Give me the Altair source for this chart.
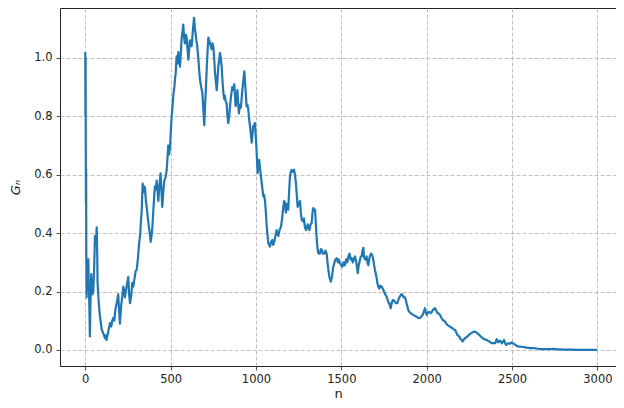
import altair as alt
import pandas as pd

n_values = [0, 1, 2, 3, 4, 5, 6, 8, 10, 12, 15, 18, 20, 22, 25, 27, 30, 32, 35, 37, 42, 47, 52, 57, 62, 67, 70, 72, 78, 86, 92, 96, 103, 110, 115, 120, 125, 130, 137, 145, 152, 158, 164, 170, 177, 184, 193, 198, 203, 210, 218, 223, 228, 232, 240, 246, 252, 257, 262, 270, 275, 281, 290, 295, 301, 308, 312, 316, 322, 326, 330, 333, 336, 340, 345, 350, 355, 360, 367, 373, 378, 383, 388, 393, 398, 403, 408, 413, 418, 423, 428, 434, 441, 446, 451, 457, 463, 470, 477, 482, 486, 491, 496, 501, 506, 512, 517, 522, 526, 530, 535, 540, 545, 550, 555, 560, 565, 570, 574, 579, 584, 589, 594, 599, 604, 609, 613, 618, 623, 630, 637, 642, 646, 651, 656, 662, 667, 672, 679, 686, 692, 697, 702, 707, 712, 717, 721, 726, 731, 736, 740, 745, 750, 755, 760, 765, 770, 775, 779, 784, 789, 794, 799, 804, 809, 814, 818, 823, 828, 833, 838, 843, 848, 854, 861, 867, 873, 877, 881, 886, 891, 896, 900, 906, 912, 917, 922, 927, 932, 936, 939, 945, 950, 955, 960, 965, 970, 975, 980, 984, 989, 994, 998, 1002, 1006, 1010, 1015, 1019, 1024, 1029, 1036, 1043, 1048, 1053, 1058, 1063, 1068, 1072, 1077, 1082, 1089, 1096, 1101, 1107, 1114, 1121, 1126, 1131, 1138, 1147, 1153, 1160, 1165, 1170, 1175, 1180, 1185, 1189, 1194, 1199, 1204, 1209, 1216, 1223, 1228, 1232, 1238, 1244, 1251, 1258, 1263, 1268, 1275, 1281, 1287, 1293, 1298, 1303, 1308, 1313, 1320, 1326, 1331, 1336, 1341, 1346, 1350, 1355, 1360, 1365, 1370, 1375, 1380, 1385, 1392, 1400, 1407, 1414, 1419, 1424, 1430, 1438, 1445, 1453, 1460, 1466, 1473, 1480, 1486, 1492, 1499, 1506, 1513, 1521, 1528, 1535, 1541, 1548, 1554, 1560, 1567, 1573, 1580, 1588, 1596, 1602, 1609, 1614, 1619, 1624, 1629, 1633, 1638, 1643, 1648, 1653, 1658, 1663, 1668, 1674, 1681, 1687, 1692, 1697, 1702, 1707, 1711, 1716, 1722, 1729, 1736, 1743, 1750, 1757, 1765, 1772, 1778, 1781, 1785, 1789, 1795, 1801, 1807, 1814, 1820, 1828, 1836, 1843, 1850, 1857, 1865, 1873, 1878, 1882, 1887, 1892, 1899, 1906, 1913, 1921, 1930, 1941, 1950, 1961, 1969, 1977, 1983, 1990, 1995, 2000, 2005, 2010, 2017, 2024, 2030, 2036, 2042, 2049, 2056, 2063, 2070, 2078, 2086, 2094, 2101, 2108, 2115, 2121, 2128, 2136, 2144, 2152, 2159, 2166, 2173, 2180, 2186, 2191, 2195, 2203, 2210, 2217, 2224, 2231, 2238, 2245, 2253, 2260, 2268, 2275, 2283, 2290, 2297, 2303, 2309, 2316, 2322, 2329, 2336, 2344, 2352, 2360, 2367, 2374, 2381, 2391, 2401, 2406, 2410, 2415, 2420, 2425, 2430, 2435, 2440, 2447, 2453, 2459, 2465, 2472, 2479, 2489, 2498, 2505, 2512, 2520, 2528, 2537, 2547, 2557, 2567, 2576, 2586, 2596, 2606, 2626, 2645, 2665, 2684, 2704, 2723, 2743, 2762, 2782, 2801, 2840, 2880, 2940, 2999]

g_values = [1.02, 0.80, 1.00, 0.68, 0.50, 0.62, 0.35, 0.18, 0.27, 0.22, 0.30, 0.31, 0.24, 0.20, 0.12, 0.046, 0.15, 0.20, 0.26, 0.23, 0.19, 0.20, 0.28, 0.39, 0.36, 0.42, 0.33, 0.23, 0.17, 0.114, 0.09, 0.07, 0.06, 0.05, 0.04, 0.05, 0.034, 0.05, 0.07, 0.092, 0.08, 0.10, 0.11, 0.10, 0.14, 0.16, 0.19, 0.14, 0.09, 0.15, 0.19, 0.217, 0.20, 0.18, 0.21, 0.23, 0.25, 0.19, 0.16, 0.19, 0.23, 0.217, 0.25, 0.27, 0.274, 0.31, 0.34, 0.367, 0.40, 0.44, 0.47, 0.52, 0.57, 0.54, 0.56, 0.555, 0.51, 0.49, 0.45, 0.42, 0.40, 0.37, 0.39, 0.42, 0.47, 0.52, 0.56, 0.55, 0.58, 0.55, 0.51, 0.56, 0.605, 0.55, 0.49, 0.54, 0.58, 0.59, 0.617, 0.66, 0.70, 0.67, 0.69, 0.75, 0.80, 0.84, 0.88, 0.90, 0.93, 0.95, 1.005, 0.98, 1.02, 1.00, 0.97, 1.02, 1.07, 1.09, 1.114, 1.07, 1.05, 1.08, 1.07, 1.03, 0.994, 1.03, 1.06, 1.05, 1.04, 1.09, 1.137, 1.10, 1.085, 1.06, 1.04, 1.00, 0.96, 0.926, 0.90, 0.88, 0.82, 0.77, 0.84, 0.90, 0.97, 1.03, 1.07, 1.06, 1.05, 1.04, 1.03, 1.05, 1.04, 1.00, 0.95, 0.92, 0.89, 0.93, 0.97, 0.99, 1.017, 1.00, 0.97, 0.92, 0.88, 0.86, 0.87, 0.85, 0.845, 0.80, 0.777, 0.80, 0.835, 0.87, 0.90, 0.89, 0.91, 0.87, 0.835, 0.86, 0.89, 0.84, 0.81, 0.84, 0.83, 0.87, 0.90, 0.93, 0.954, 0.92, 0.89, 0.834, 0.84, 0.823, 0.79, 0.766, 0.74, 0.71, 0.74, 0.766, 0.77, 0.777, 0.74, 0.70, 0.65, 0.606, 0.63, 0.651, 0.62, 0.594, 0.56, 0.526, 0.53, 0.51, 0.47, 0.423, 0.39, 0.366, 0.36, 0.354, 0.37, 0.377, 0.36, 0.37, 0.39, 0.41, 0.40, 0.39, 0.41, 0.423, 0.45, 0.49, 0.51, 0.503, 0.47, 0.50, 0.49, 0.48, 0.54, 0.594, 0.61, 0.617, 0.61, 0.617, 0.60, 0.583, 0.54, 0.49, 0.50, 0.51, 0.47, 0.446, 0.44, 0.45, 0.42, 0.41, 0.42, 0.43, 0.42, 0.41, 0.43, 0.434, 0.47, 0.486, 0.48, 0.48, 0.44, 0.388, 0.35, 0.332, 0.33, 0.33, 0.345, 0.343, 0.33, 0.33, 0.34, 0.33, 0.30, 0.274, 0.25, 0.234, 0.25, 0.285, 0.30, 0.31, 0.314, 0.30, 0.31, 0.297, 0.29, 0.285, 0.30, 0.29, 0.31, 0.30, 0.32, 0.33, 0.31, 0.315, 0.30, 0.31, 0.32, 0.30, 0.263, 0.29, 0.309, 0.32, 0.32, 0.34, 0.35, 0.32, 0.31, 0.31, 0.32, 0.30, 0.29, 0.31, 0.323, 0.33, 0.325, 0.31, 0.29, 0.274, 0.26, 0.246, 0.23, 0.217, 0.21, 0.22, 0.217, 0.21, 0.20, 0.19, 0.183, 0.17, 0.16, 0.16, 0.15, 0.143, 0.16, 0.171, 0.17, 0.165, 0.16, 0.16, 0.175, 0.183, 0.19, 0.19, 0.18, 0.18, 0.17, 0.16, 0.15, 0.137, 0.13, 0.126, 0.123, 0.12, 0.117, 0.114, 0.11, 0.109, 0.115, 0.12, 0.13, 0.143, 0.13, 0.12, 0.125, 0.13, 0.13, 0.126, 0.13, 0.137, 0.14, 0.143, 0.135, 0.126, 0.125, 0.12, 0.11, 0.103, 0.10, 0.097, 0.09, 0.086, 0.083, 0.08, 0.077, 0.074, 0.07, 0.069, 0.06, 0.051, 0.048, 0.046, 0.04, 0.035, 0.029, 0.035, 0.04, 0.043, 0.046, 0.05, 0.054, 0.057, 0.06, 0.062, 0.063, 0.06, 0.057, 0.054, 0.051, 0.047, 0.043, 0.04, 0.037, 0.036, 0.034, 0.031, 0.029, 0.026, 0.023, 0.023, 0.023, 0.03, 0.037, 0.03, 0.026, 0.03, 0.032, 0.028, 0.023, 0.028, 0.034, 0.025, 0.017, 0.02, 0.023, 0.021, 0.026, 0.022, 0.021, 0.017, 0.014, 0.012, 0.011, 0.011, 0.01, 0.009, 0.008, 0.007, 0.006, 0.006, 0.005, 0.003, 0.003, 0.003, 0.003, 0.004, 0.002, 0.002, 0.001, 0.001, 0.0, 0.0, 0.0]

x_ticks = [0, 500, 1000, 1500, 2000, 2500, 3000]
y_ticks = [0.0, 0.2, 0.4, 0.6, 0.8, 1.0]

df = pd.DataFrame({"n": n_values, "g": g_values})

FONT = "DejaVu Sans"

chart = (
    alt.Chart(df)
    .mark_line(color="#1f77b4", strokeWidth=2.2, strokeJoin="round", clip=True)
    .encode(
        x=alt.X(
            "n:Q",
            scale=alt.Scale(domain=[-148, 3109], nice=False, zero=False),
            axis=alt.Axis(
                values=x_ticks,
                title="n",
                format="d",
                titlePadding=3,
                labelPadding=3,
            ),
        ),
        y=alt.Y(
            "g:Q",
            scale=alt.Scale(domain=[-0.055, 1.171], nice=False, zero=False),
            axis=alt.Axis(
                values=y_ticks,
                title="Gₙ",
                format=".1f",
                titlePadding=11,
                labelPadding=4,
                titleFontStyle="italic",
            ),
        ),
    )
    .properties(
        width=556,
        height=358,
        autosize=alt.AutoSizeParams(type="none"),
        padding={"left": 52, "top": 0, "right": 0, "bottom": 34},
    )
    .configure_view(stroke="#222222", strokeWidth=1)
    .configure_axis(
        domain=False,
        grid=True,
        gridColor="#b0b0b0",
        gridDash=[4, 2],
        gridWidth=0.8,
        tickColor="#222222",
        tickSize=4,
        tickWidth=0.8,
        labelFont=FONT,
        labelFontSize=11.5,
        labelColor="#222222",
        titleFont=FONT,
        titleFontSize=13,
        titleFontWeight="normal",
        titleColor="#222222",
    )
)

chart.save("out.html", embed_options={"renderer": "svg", "actions": False})
